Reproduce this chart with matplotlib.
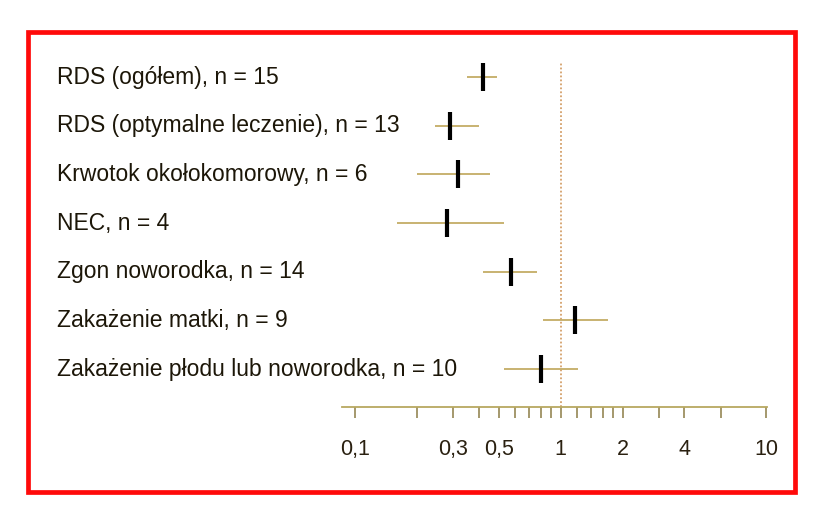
import matplotlib
matplotlib.use("Agg")
import matplotlib.pyplot as plt
import matplotlib.transforms as mtransforms
from matplotlib.patches import Rectangle

# ---- data ----
labels = [
    "RDS (ogółem), n = 15",
    "RDS (optymalne leczenie), n = 13",
    "Krwotok okołokomorowy, n = 6",
    "NEC, n = 4",
    "Zgon noworodka, n = 14",
    "Zakażenie matki, n = 9",
    "Zakażenie płodu lub noworodka, n = 10",
]
estimate = [0.42, 0.29, 0.315, 0.28, 0.57, 1.17, 0.80]
ci_low = [0.35, 0.245, 0.20, 0.16, 0.42, 0.82, 0.53]
ci_high = [0.49, 0.40, 0.45, 0.53, 0.77, 1.69, 1.21]

tick_values = [0.1, 0.2, 0.3, 0.4, 0.5, 0.6, 0.7, 0.8, 0.9, 1,
               1.2, 1.4, 1.6, 1.8, 2, 3, 4, 6, 10]
tick_labels = ["0,1", "", "0,3", "", "0,5", "", "", "", "", "1",
               "", "", "", "", "2", "", "4", "", "10"]

plt.rcParams['font.family'] = ['Liberation Sans', 'DejaVu Sans']

W, H = 823, 519
fig = plt.figure(figsize=(W / 100, H / 100), dpi=100)
fig.patch.set_facecolor("white")

# axes placement (pixels -> fractions)
ax_left, ax_right = 342, 767
ax_top, ax_bottom = 62, 407
ax = fig.add_axes([ax_left / W, 1 - ax_bottom / H,
                   (ax_right - ax_left) / W, (ax_bottom - ax_top) / H])
ax.set_xscale("log")
ax.set_xlim(0.086, 10.1)
ax.set_ylim(6.78, -0.31)

for s in ["top", "right", "left"]:
    ax.spines[s].set_visible(False)
ax.spines["bottom"].set_color("#b8a860")
ax.spines["bottom"].set_linewidth(1.3)
ax.set_facecolor("none")

ax.set_xticks(tick_values)
ax.set_xticklabels(tick_labels)
ax.xaxis.set_minor_locator(matplotlib.ticker.NullLocator())
ax.tick_params(axis="x", which="major", length=8, width=1.1, color="#8c7c45",
               direction="out", pad=15, labelsize=15.5, labelcolor="#2a2010")
ax.set_yticks([])

ypos = list(range(len(labels)))

# reference line at 1
ax.axvline(1, color="#d4a06a", linestyle=(0, (1, 1.2)), linewidth=1.3, zorder=1)

# confidence intervals
ax.hlines(ypos, ci_low, ci_high, color="#c4ac66", linewidth=1.3, zorder=2)
# point estimates
ax.plot(estimate, ypos, linestyle="none", marker="|", markersize=20,
        markeredgewidth=3.0, color="black", zorder=3)

# labels on the left
trans = mtransforms.blended_transform_factory(fig.transFigure, ax.transData)
for y, lab in zip(ypos, labels):
    ax.text(57 / W, y, lab, transform=trans, ha="left", va="center",
            fontsize=16.5, color="#1c1608", clip_on=False)

# red frame
fig.patches.append(Rectangle((28 / W, 1 - 492 / H), (795 - 28) / W, (492 - 32) / H,
                             transform=fig.transFigure, fill=False,
                             edgecolor="#ff0a0a", linewidth=3.4))

fig.savefig("out.png", dpi=100, facecolor="white")
